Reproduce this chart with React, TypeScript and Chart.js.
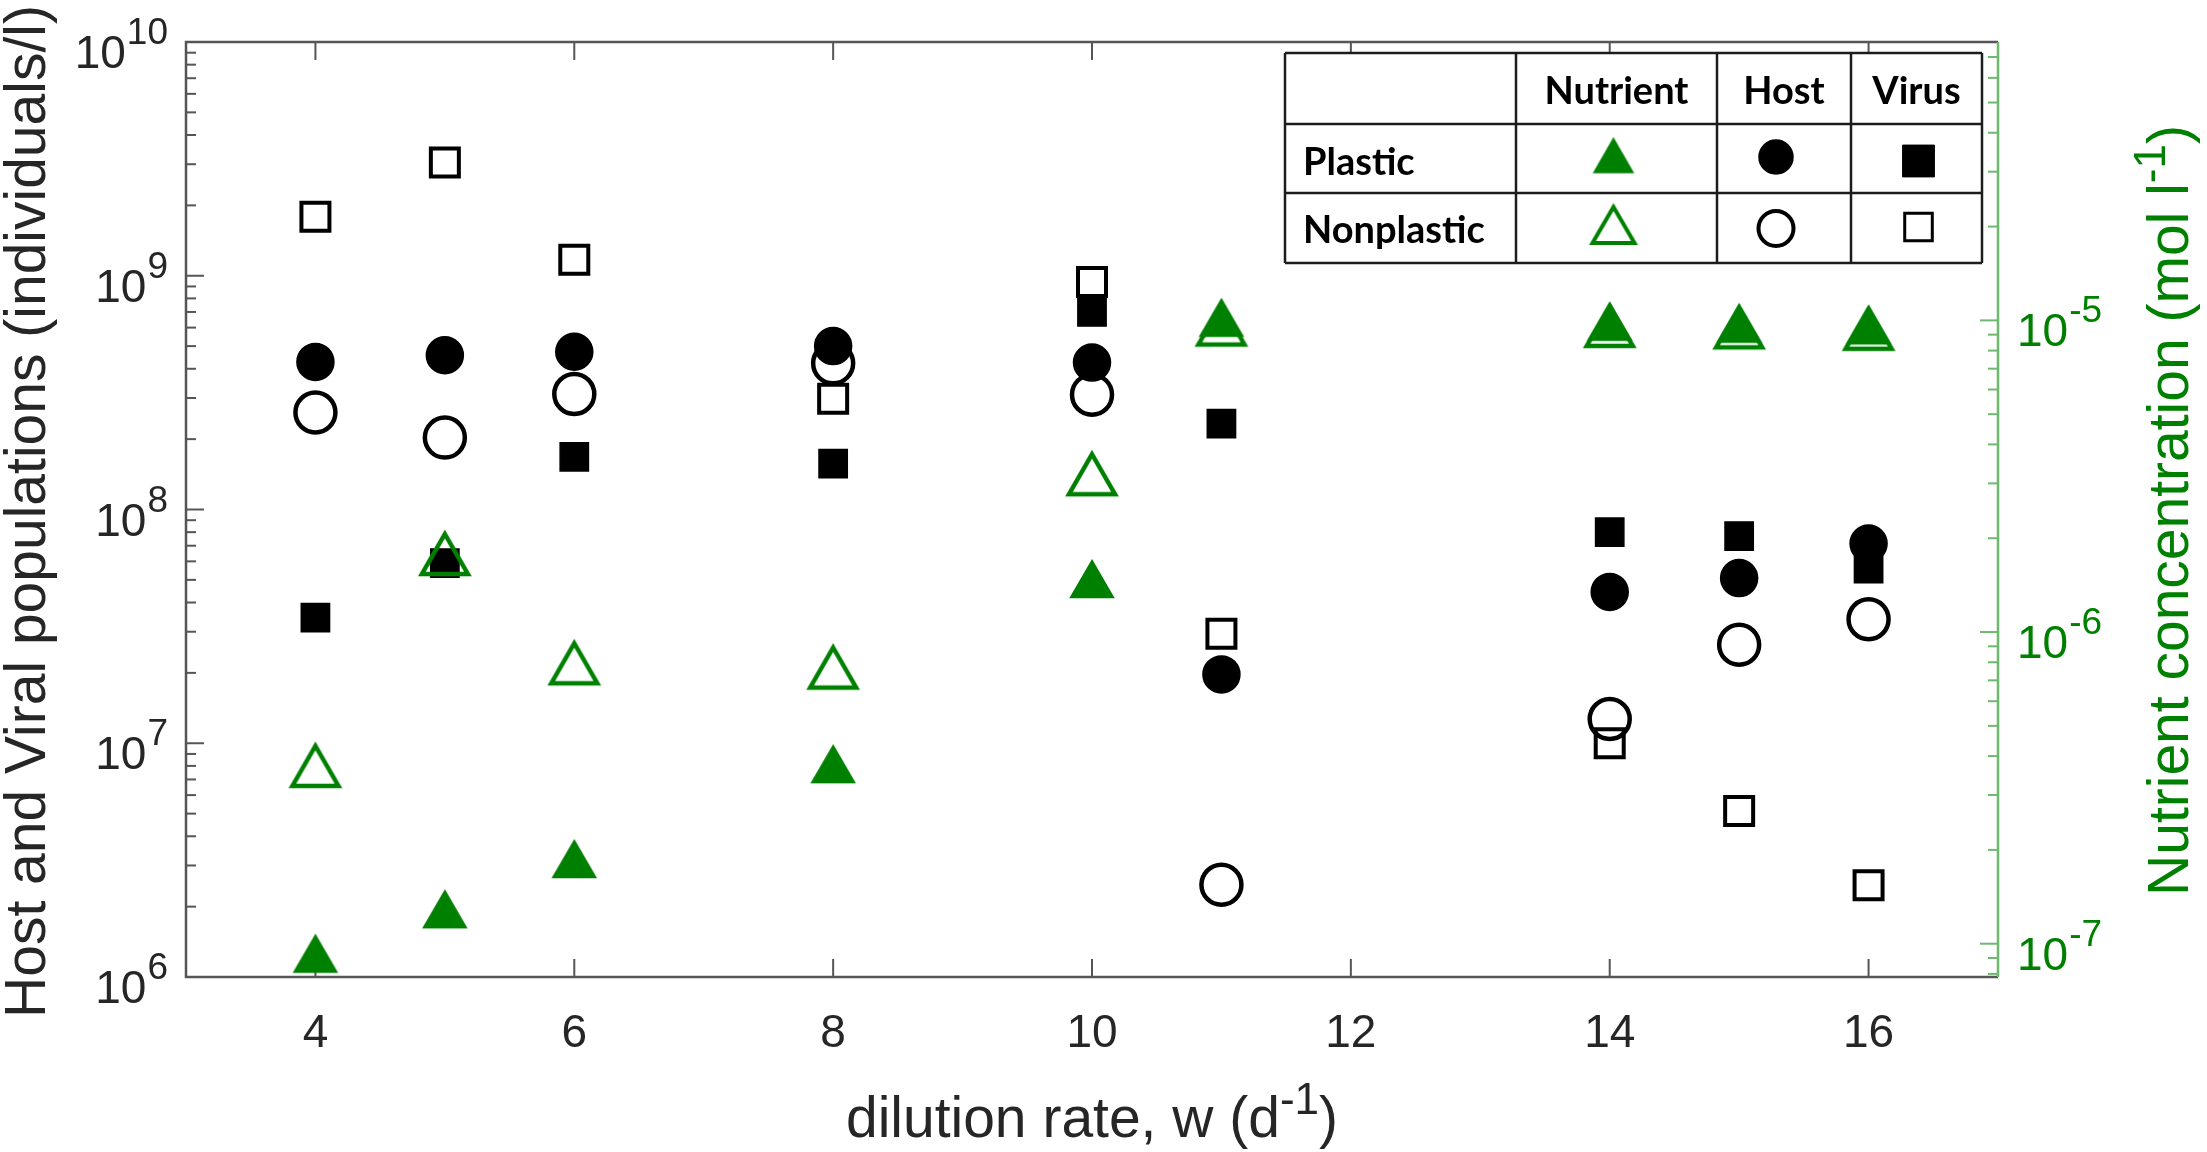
import { useEffect, useRef } from "react"
import { Chart, registerables, type ChartConfiguration, type Plugin } from "chart.js"
import { drawPoint } from "chart.js/helpers"

Chart.register(...registerables)

// dilution rate w (d^-1)
const dilutionRates = [4, 5, 6, 8, 10, 11, 14, 15, 16]

// host and viral populations (individuals/l), left axis
const hostPlastic = [4.28e8, 4.57e8, 4.73e8, 5.0e8, 4.25e8, 1.97e7, 4.44e7, 5.09e7, 7.15e7]
const hostNonplastic = [2.6e8, 2.03e8, 3.12e8, 4.22e8, 3.1e8, 2.48e6, 1.27e7, 2.64e7, 3.39e7]
const virusPlastic = [3.45e7, 5.9e7, 1.68e8, 1.57e8, 7.0e8, 2.33e8, 8.0e7, 7.7e7, 5.58e7]
const virusNonplastic = [1.79e9, 3.05e9, 1.17e9, 2.98e8, 9.4e8, 2.94e7, 1.0e7, 5.13e6, 2.47e6]

// nutrient concentration (mol/l), right axis
const nutrientPlastic = [9.29e-8, 1.29e-7, 1.87e-7, 3.77e-7, 1.48e-6, 1.02e-5, 9.9e-6, 9.76e-6, 9.64e-6]
const nutrientNonplastic = [3.72e-7, 1.78e-6, 7.94e-7, 7.69e-7, 3.21e-6, 9.7e-6, 9.6e-6, 9.5e-6, 9.4e-6]

// axes
const xTicks = [4, 6, 8, 10, 12, 14, 16]
const leftExponents = [6, 7, 8, 9, 10]
const rightExponents = [-7, -6, -5]
const rightMin = 7.82e-8
const rightMax = 7.82e-5

// legend table
const legendColumns = ["Nutrient", "Host", "Virus"]
const legendRows = ["Plastic", "Nonplastic"]

const GREEN = "#008000"
const AXIS_GREEN = "rgb(110, 185, 110)"
const AXIS_GRAY = "rgb(85, 85, 85)"
const LABEL_COLOR = "#262626"
const SANS = '"Liberation Sans", Arial, sans-serif'
const BASE_FONT = `46px ${SANS}`
const EXP_FONT = `37px ${SANS}`
const TITLE_FONT = `57px ${SANS}`
const TITLE_SUP_FONT = `44px ${SANS}`
const TABLE_FONT = 'bold 38px Lato, "Open Sans", sans-serif'

type Run = { text: string; sup?: boolean }

const toPoints = (values: number[]) => dilutionRates.map((x, i) => ({ x, y: values[i] }))

// matlab-style '^' marker, centred on its bounding box
function triangleMarker(w: number, h: number, fill: string | null, stroke: string, lw: number) {
  const pad = Math.ceil(lw * 2 + 2)
  const c = document.createElement("canvas")
  c.width = Math.ceil((w + pad * 2) / 2) * 2
  c.height = Math.ceil((h + pad * 2) / 2) * 2
  const g = c.getContext("2d")!
  const cx = c.width / 2
  const cy = c.height / 2
  g.beginPath()
  g.moveTo(cx, cy - h / 2)
  g.lineTo(cx + w / 2, cy + h / 2)
  g.lineTo(cx - w / 2, cy + h / 2)
  g.closePath()
  if (fill) {
    g.fillStyle = fill
    g.fill()
  }
  g.lineJoin = "miter"
  g.lineWidth = lw
  g.strokeStyle = stroke
  g.stroke()
  return c
}

function drawPower(ctx: CanvasRenderingContext2D, exp: string, x: number, tick: number, align: "left" | "right") {
  ctx.font = BASE_FONT
  const bw = ctx.measureText("10").width
  ctx.font = EXP_FONT
  const ew = ctx.measureText(exp).width
  const start = align === "left" ? x : x - bw - ew - 1
  ctx.textAlign = "left"
  ctx.textBaseline = "alphabetic"
  ctx.font = BASE_FONT
  ctx.fillText("10", start, tick + 26)
  ctx.font = EXP_FONT
  ctx.fillText(exp, start + bw + 1, tick + 2)
}

function drawRuns(ctx: CanvasRenderingContext2D, runs: Run[], cx: number, baseline: number) {
  const widths = runs.map((r) => {
    ctx.font = r.sup ? TITLE_SUP_FONT : TITLE_FONT
    return ctx.measureText(r.text).width
  })
  const total = widths.reduce((a, b) => a + b, 0)
  let x = cx - total / 2
  ctx.textAlign = "left"
  ctx.textBaseline = "alphabetic"
  runs.forEach((r, i) => {
    ctx.font = r.sup ? TITLE_SUP_FONT : TITLE_FONT
    ctx.fillText(r.text, x, r.sup ? baseline - 23 : baseline)
    x += widths[i]
  })
}

let legendTriangles: HTMLCanvasElement[] = []

const axesPlugin: Plugin<"scatter"> = {
  id: "matlabAxes",
  beforeDatasetsDraw(chart) {
    const { ctx, chartArea, scales } = chart
    const { left, right, top, bottom } = chartArea
    const line = (x1: number, y1: number, x2: number, y2: number) => {
      ctx.beginPath()
      ctx.moveTo(x1, y1)
      ctx.lineTo(x2, y2)
      ctx.stroke()
    }
    ctx.save()
    ctx.strokeStyle = AXIS_GRAY
    ctx.lineWidth = 2.5
    ctx.beginPath()
    ctx.moveTo(right, top)
    ctx.lineTo(left, top)
    ctx.lineTo(left, bottom)
    ctx.lineTo(right, bottom)
    ctx.stroke()

    ctx.lineWidth = 2
    for (const v of xTicks) {
      const px = scales.x.getPixelForValue(v)
      line(px, bottom, px, bottom - 18)
      line(px, top, px, top + 18)
    }
    for (const e of leftExponents) {
      for (let m = 1; m <= 9; m++) {
        const v = m * Math.pow(10, e)
        if (v > 1e10 * 1.0001) continue
        const py = scales.y.getPixelForValue(v)
        line(left, py, left + (m === 1 ? 18 : 10), py)
      }
    }

    ctx.strokeStyle = AXIS_GREEN
    ctx.lineWidth = 2.5
    line(right, top, right, bottom)
    ctx.lineWidth = 2
    for (let e = -8; e <= -5; e++) {
      for (let m = 1; m <= 9; m++) {
        const v = m * Math.pow(10, e)
        if (v < rightMin || v > rightMax) continue
        const py = scales.y2.getPixelForValue(v)
        line(right, py, right - (m === 1 ? 18 : 10), py)
      }
    }
    ctx.restore()
  },
  afterDraw(chart) {
    const { ctx, chartArea, scales } = chart
    const { left, right, top, bottom } = chartArea
    ctx.save()

    // tick labels
    ctx.fillStyle = LABEL_COLOR
    ctx.font = BASE_FONT
    ctx.textAlign = "center"
    ctx.textBaseline = "alphabetic"
    for (const v of xTicks) {
      ctx.fillText(String(v), scales.x.getPixelForValue(v), bottom + 70)
    }
    for (const e of leftExponents) {
      drawPower(ctx, String(e), left - 18, scales.y.getPixelForValue(Math.pow(10, e)), "right")
    }
    ctx.fillStyle = GREEN
    for (const e of rightExponents) {
      drawPower(ctx, String(e), right + 19, scales.y2.getPixelForValue(Math.pow(10, e)), "left")
    }

    // axis titles
    ctx.fillStyle = LABEL_COLOR
    drawRuns(ctx, [{ text: "dilution rate, w (d" }, { text: "-1", sup: true }, { text: ")" }], (left + right) / 2, 1137)

    ctx.save()
    ctx.translate(45, (top + bottom) / 2 + 2)
    ctx.rotate(-Math.PI / 2)
    drawRuns(ctx, [{ text: "Host and Viral populations (individuals/l)" }], 0, 0)
    ctx.restore()

    ctx.save()
    ctx.fillStyle = GREEN
    ctx.translate(2188, (top + bottom) / 2 + 1)
    ctx.rotate(-Math.PI / 2)
    drawRuns(ctx, [{ text: "Nutrient concentration (mol l" }, { text: "-1", sup: true }, { text: ")" }], 0, 0)
    ctx.restore()

    // legend table
    const colX = [1285, 1516, 1717, 1851, 1982]
    const rowY = [53, 124, 193, 263]
    ctx.fillStyle = "#fff"
    ctx.fillRect(colX[0], rowY[0], colX[4] - colX[0], rowY[3] - rowY[0])
    ctx.strokeStyle = "#1c1c1c"
    ctx.lineWidth = 2.5
    for (const y of rowY) {
      ctx.beginPath()
      ctx.moveTo(colX[0], y)
      ctx.lineTo(colX[4], y)
      ctx.stroke()
    }
    for (const x of colX) {
      ctx.beginPath()
      ctx.moveTo(x, rowY[0])
      ctx.lineTo(x, rowY[3])
      ctx.stroke()
    }
    ctx.fillStyle = "#000"
    ctx.font = TABLE_FONT
    ctx.textAlign = "center"
    legendColumns.forEach((c, i) => ctx.fillText(c, (colX[i + 1] + colX[i + 2]) / 2, 104))
    ctx.textAlign = "left"
    legendRows.forEach((r, i) => ctx.fillText(r, 1303, i === 0 ? 175 : 243))

    const mark = (style: "circle" | "rect" | HTMLCanvasElement, x: number, y: number, radius: number, fill: string, stroke: string, bw: number) => {
      ctx.fillStyle = fill
      ctx.strokeStyle = stroke
      ctx.lineWidth = bw
      drawPoint(ctx, { pointStyle: style, rotation: 0, radius, borderWidth: bw }, x, y)
    }
    const nutX = (colX[1] + colX[2]) / 2 - 3
    const hostX = (colX[2] + colX[3]) / 2 - 8
    const virX = (colX[3] + colX[4]) / 2 + 2
    if (legendTriangles.length === 2) {
      mark(legendTriangles[0], nutX, 155.5, 20, GREEN, GREEN, 0)
      mark(legendTriangles[1], nutX, 225, 20, "#fff", GREEN, 0)
    }
    mark("circle", hostX, 157, 17, "#000", "#000", 1.5)
    mark("circle", hostX, 228.5, 17.5, "#fff", "#000", 4)
    mark("rect", virX, 161, 22.5, "#000", "#000", 1)
    mark("rect", virX, 227, 19.5, "#fff", "#000", 3)

    ctx.restore()
  },
}

export default function App() {
  const chartRef = useRef<HTMLCanvasElement>(null)
  const chartInstance = useRef<Chart | null>(null)

  useEffect(() => {
    document.body.style.margin = "0"
    if (!chartRef.current) return
    if (chartInstance.current) chartInstance.current.destroy()
    const ctx = chartRef.current.getContext("2d")
    if (!ctx) return

    const filledTriangle = triangleMarker(43, 37, GREEN, GREEN, 1.5)
    const openTriangle = triangleMarker(46, 40, null, GREEN, 4.5)
    legendTriangles = [triangleMarker(39, 34, GREEN, GREEN, 1.5), triangleMarker(42, 36, "#fff", GREEN, 4)]

    const config: ChartConfiguration<"scatter"> = {
      type: "scatter",
      data: {
        datasets: [
          {
            label: "Nutrient, plastic",
            data: toPoints(nutrientPlastic),
            yAxisID: "y2",
            pointStyle: filledTriangle,
            pointRadius: 23,
            backgroundColor: GREEN,
            borderColor: GREEN,
          },
          {
            label: "Nutrient, nonplastic",
            data: toPoints(nutrientNonplastic),
            yAxisID: "y2",
            pointStyle: openTriangle,
            pointRadius: 25,
            backgroundColor: "rgba(0,0,0,0)",
            borderColor: GREEN,
          },
          {
            label: "Host, plastic",
            data: toPoints(hostPlastic),
            yAxisID: "y",
            pointStyle: "circle",
            pointRadius: 18.5,
            backgroundColor: "#000",
            borderColor: "#000",
            borderWidth: 1.5,
          },
          {
            label: "Host, nonplastic",
            data: toPoints(hostNonplastic),
            yAxisID: "y",
            pointStyle: "circle",
            pointRadius: 20,
            backgroundColor: "rgba(0,0,0,0)",
            borderColor: "#000",
            borderWidth: 4.5,
          },
          {
            label: "Virus, nonplastic",
            data: toPoints(virusNonplastic),
            yAxisID: "y",
            pointStyle: "rect",
            pointRadius: 19.8,
            backgroundColor: "rgba(0,0,0,0)",
            borderColor: "#000",
            borderWidth: 4,
          },
          {
            label: "Virus, plastic",
            data: toPoints(virusPlastic),
            yAxisID: "y",
            pointStyle: "rect",
            pointRadius: 20,
            backgroundColor: "#000",
            borderColor: "#000",
            borderWidth: 1.5,
          },
        ],
      },
      options: {
        animation: false,
        responsive: true,
        maintainAspectRatio: false,
        events: [],
        clip: false,
        layout: { padding: { top: 42, left: 0, right: 0, bottom: 0 } },
        scales: {
          x: {
            type: "linear",
            position: "bottom",
            min: 3,
            max: 17,
            grid: { display: false },
            border: { display: false },
            ticks: { display: false },
            afterFit: (scale) => {
              scale.height = 175
            },
          },
          y: {
            type: "logarithmic",
            position: "left",
            min: 1e6,
            max: 1e10,
            grid: { display: false },
            border: { display: false },
            ticks: { display: false },
            afterFit: (scale) => {
              scale.width = 186
            },
          },
          y2: {
            type: "logarithmic",
            position: "right",
            min: rightMin,
            max: rightMax,
            grid: { display: false },
            border: { display: false },
            ticks: { display: false },
            afterFit: (scale) => {
              scale.width = 209
            },
          },
        },
        plugins: {
          legend: { display: false },
          tooltip: { enabled: false },
        },
      },
      plugins: [axesPlugin],
    }

    chartInstance.current = new Chart(ctx, config)

    return () => {
      if (chartInstance.current) {
        chartInstance.current.destroy()
        chartInstance.current = null
      }
    }
  }, [])

  return (
    <div style={{ position: "relative", width: 2207, height: 1152, background: "#fff" }}>
      <canvas ref={chartRef} />
    </div>
  )
}
